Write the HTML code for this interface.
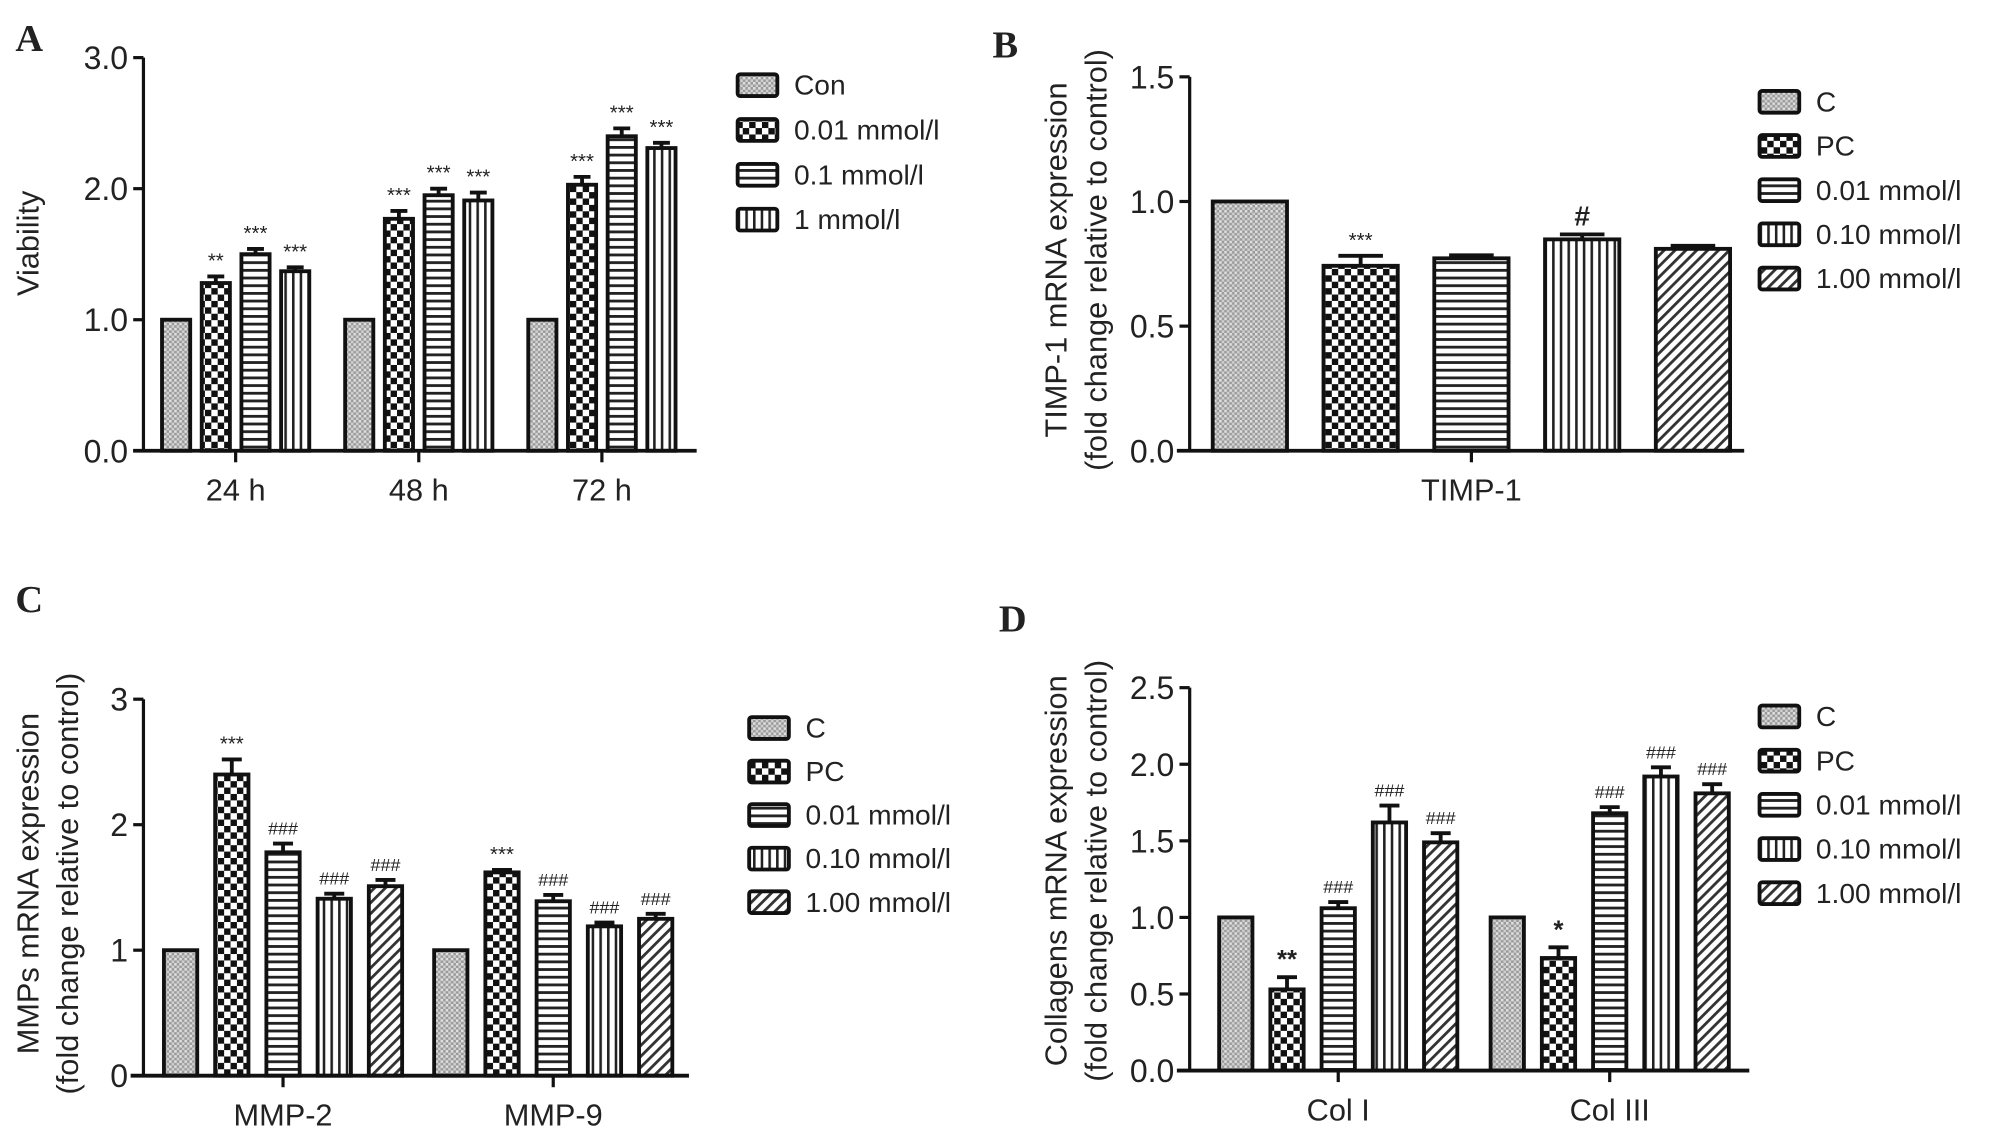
<!DOCTYPE html>
<html><head><meta charset="utf-8">
<style>
html,body{margin:0;padding:0;background:#fff;}
svg{display:block;}
text{font-family:"Liberation Sans",Arial,sans-serif;fill:#222;}
</style></head>
<body>
<svg id="fig" width="2008" height="1141" viewBox="0 0 1568 891" xmlns="http://www.w3.org/2000/svg">
<defs>
<pattern id="p0" width="4" height="4" patternUnits="userSpaceOnUse"><rect width="4" height="4" fill="#9a9a9a"/><rect width="2" height="2" fill="#e0e0e0"/><rect x="2" y="2" width="2" height="2" fill="#d0d0d0"/></pattern>
<pattern id="p1" width="10" height="10" patternUnits="userSpaceOnUse"><rect width="10" height="10" fill="#fff"/><rect width="5" height="5" fill="#111"/><rect x="5" y="5" width="5" height="5" fill="#111"/></pattern>
<pattern id="p2" width="6" height="6" patternUnits="userSpaceOnUse"><rect width="6" height="6" fill="#fff"/><rect y="0" width="6" height="2.2" fill="#222"/></pattern>
<pattern id="p3" width="6" height="6" patternUnits="userSpaceOnUse"><rect width="6" height="6" fill="#fff"/><rect x="0" width="2" height="6" fill="#222"/></pattern>
<pattern id="p4" width="6" height="6" patternUnits="userSpaceOnUse" patternTransform="rotate(45)"><rect width="6" height="6" fill="#fff"/><rect width="2.2" height="6" fill="#333"/></pattern>
</defs>
<g id="root"></g>
</svg>
<script>
// Panel A data
const catsA = ["24 h","48 h","72 h"];
const seriesA = ["Con","0.01 mmol/l","0.1 mmol/l","1 mmol/l"];
const valsA = [[1,1.28,1.50,1.37],[1,1.77,1.95,1.91],[1,2.03,2.40,2.31]];
const errsA = [[0,0.05,0.04,0.03],[0,0.06,0.05,0.06],[0,0.06,0.06,0.04]];
const annA = [["","**","***","***"],["","***","***","***"],["","***","***","***"]];
const ticksA = [0,1,2,3];
const tickLabA = ["0.0","1.0","2.0","3.0"];
// Panel B data
const catsB = ["TIMP-1"];
const seriesB = ["C","PC","0.01 mmol/l","0.10 mmol/l","1.00 mmol/l"];
const valsB = [[1,0.742,0.772,0.848,0.81]];
const errsB = [[0,0.04,0.012,0.02,0.012]];
const annB = [["","***","","#",""]];
const ticksB = [0,0.5,1.0,1.5];
const tickLabB = ["0.0","0.5","1.0","1.5"];
// Panel C data
const catsC = ["MMP-2","MMP-9"];
const seriesC = ["C","PC","0.01 mmol/l","0.10 mmol/l","1.00 mmol/l"];
const valsC = [[1,2.40,1.78,1.41,1.51],[1,1.62,1.39,1.19,1.25]];
const errsC = [[0,0.12,0.07,0.04,0.05],[0,0.02,0.05,0.03,0.04]];
const annC = [["","***","###","###","###"],["","***","###","###","###"]];
const ticksC = [0,1,2,3];
const tickLabC = ["0","1","2","3"];
// Panel D data
const catsD = ["Col I","Col III"];
const seriesD = ["C","PC","0.01 mmol/l","0.10 mmol/l","1.00 mmol/l"];
const valsD = [[1,0.53,1.06,1.62,1.49],[1,0.735,1.68,1.92,1.81]];
const errsD = [[0,0.08,0.04,0.11,0.06],[0,0.07,0.04,0.06,0.06]];
const annD = [["","**","###","###","###"],["","*","###","###","###"]];
const ticksD = [0,0.5,1.0,1.5,2.0,2.5];
const tickLabD = ["0.0","0.5","1.0","1.5","2.0","2.5"];

const NS="http://www.w3.org/2000/svg";
const root=document.getElementById('root');
function mk(tag,attrs,parent){const e=document.createElementNS(NS,tag);for(const k in attrs)e.setAttribute(k,attrs[k]);(parent||root).appendChild(e);return e;}

function panel(cfg){
  const g=mk('g',{});
  
  
  const y=v=>cfg.y0-(v-cfg.ticks[0])/(cfg.ticks[cfg.ticks.length-1]-cfg.ticks[0])*(cfg.y0-cfg.yTop);
  const L=mk('text',{x:cfg.letter[0],y:cfg.letter[1],'font-size':30,'font-weight':'bold',style:'font-family:"Liberation Serif",serif'},g);
  L.textContent=cfg.id;
  
  
  const nS=cfg.series.length;
  cfg.cats.forEach((c,ci)=>{
    const gc=cfg.catX[0]+ci*cfg.catStep;
    cfg.vals[ci].forEach((v,si)=>{
      const cx=gc+(si-(nS-1)/2)*cfg.barStep;
      const x=cx-cfg.barW/2;
      const top=y(v);
      const e=cfg.errs[ci][si];
      if(e>0){
        const ln=mk('line',{x1:cx,x2:cx,y1:top,y2:y(v+e),stroke:'#111','stroke-width':3},g);
        
        
        const cap=mk('line',{x1:cx-cfg.barW*0.3,x2:cx+cfg.barW*0.3,y1:y(v+e),y2:y(v+e),stroke:'#111','stroke-width':3},g);
        
        
      }
      const r=mk('rect',{x:x,y:top,width:cfg.barW,height:cfg.y0-top,fill:'url(#p'+(cfg.pat[si])+')',stroke:'#111','stroke-width':3},g);
      
      
      const a=cfg.ann[ci][si];
      if(a){
        let fs=16, fw='normal';
        if(a==='#'){fs=22;fw='bold';}
        else if(a.startsWith('#')){fs=14;}
        else if(cfg.boldStars){fs=20;fw='bold';}
        const t=mk('text',{x:cx,y:y(v+e)-7,'font-size':fs,'text-anchor':'middle','font-weight':fw},g);
        t.textContent=a;
        
        
      }
    });
    const tk=mk('line',{x1:gc,x2:gc,y1:cfg.y0,y2:cfg.y0+9,stroke:'#111','stroke-width':2.5},g);
    
    
    const tl=mk('text',{x:gc,y:cfg.y0+39,'font-size':24,'text-anchor':'middle'},g);
    tl.textContent=c;
    
    
  });
  const ya=mk('line',{x1:cfg.ax,x2:cfg.ax,y1:cfg.yTop,y2:cfg.y0,stroke:'#111','stroke-width':2.5},g);
  
  
  const xa=mk('line',{x1:cfg.xStart,x2:cfg.xEnd,y1:cfg.y0,y2:cfg.y0,stroke:'#111','stroke-width':3},g);
  
  
  cfg.ticks.forEach((tv,i)=>{
    const yy=y(tv);
    const t=mk('line',{x1:cfg.ax-8,x2:cfg.ax,y1:yy,y2:yy,stroke:'#111','stroke-width':2.5},g);
    
    
    const tl=mk('text',{x:cfg.ax-12,y:yy+9,'font-size':25,'text-anchor':'end'},g);
    tl.textContent=cfg.tickLab[i];
    
    
  });
  cfg.title.forEach((line,i)=>{
    const tx=cfg.titleX[i];
    const t=mk('text',{x:tx,y:cfg.titleY,'font-size':24,'text-anchor':'middle',transform:'rotate(-90 '+tx+' '+cfg.titleY+')'},g);
    t.textContent=line;
    
    
  });
  cfg.series.forEach((s,si)=>{
    const ly=cfg.legY+si*cfg.legStep;
    const b=mk('rect',{x:cfg.legX,y:ly-8,width:31,height:17,fill:'url(#p'+cfg.pat[si]+')',stroke:'#111','stroke-width':3,rx:2},g);
    
    
    const t=mk('text',{x:cfg.legX+44,y:ly+8,'font-size':22},g);
    t.textContent=s;
    
    
  });
}

panel({id:'A',letter:[12,40],cats:catsA,series:seriesA,vals:valsA,errs:errsA,ann:annA,ticks:ticksA,tickLab:tickLabA,
  pat:[0,1,2,3],ax:112,yTop:45,y0:352,xStart:104,xEnd:544,catX:[184],catStep:143,barStep:31,barW:22,
  title:['Viability'],titleX:[30],titleY:190,legX:576,legY:66,legStep:35});
panel({id:'B',letter:[775,45],cats:catsB,series:seriesB,vals:valsB,errs:errsB,ann:annB,ticks:ticksB,tickLab:tickLabB,
  pat:[0,1,2,3,4],ax:929,yTop:60,y0:352,xStart:919,xEnd:1362,catX:[1149],catStep:0,barStep:86.5,barW:58,
  title:['TIMP-1 mRNA expression','(fold change relative to control)'],titleX:[833,864],titleY:203,legX:1374,legY:79,legStep:34.5});
panel({id:'C',letter:[12,478],cats:catsC,series:seriesC,vals:valsC,errs:errsC,ann:annC,ticks:ticksC,tickLab:tickLabC,
  pat:[0,1,2,3,4],ax:112,yTop:546,y0:840,xStart:102,xEnd:538,catX:[221],catStep:211,barStep:40,barW:26,
  title:['MMPs mRNA expression','(fold change relative to control)'],titleX:[30,61],titleY:690,legX:585,legY:568,legStep:34});
panel({id:'D',letter:[780,493],cats:catsD,series:seriesD,vals:valsD,errs:errsD,ann:annD,ticks:ticksD,tickLab:tickLabD,boldStars:true,
  pat:[0,1,2,3,4],ax:929,yTop:537,y0:836,xStart:919,xEnd:1366,catX:[1045],catStep:212,barStep:40,barW:26,
  title:['Collagens mRNA expression','(fold change relative to control)'],titleX:[833,864],titleY:680,legX:1374,legY:559,legStep:34.5});
</script>
</body></html>
